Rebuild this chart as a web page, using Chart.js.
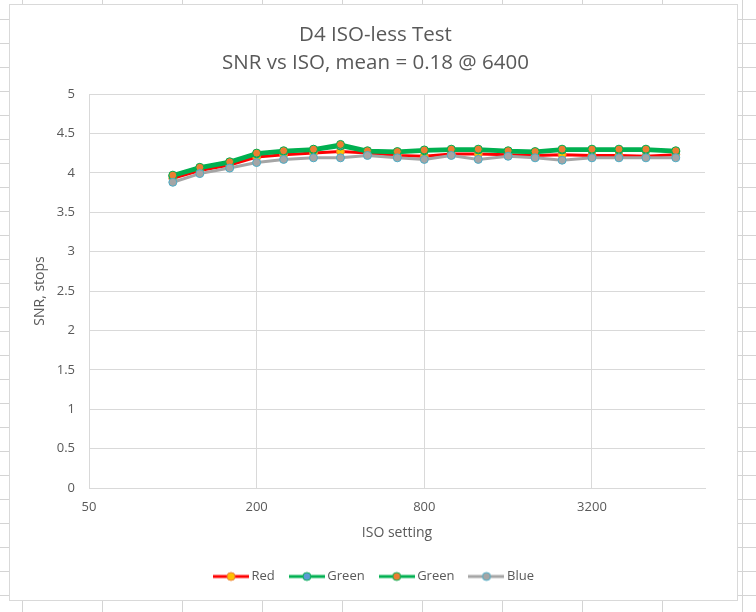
<!DOCTYPE html>
<html>
<head>
<meta charset="utf-8">
<script src="https://cdn.jsdelivr.net/npm/chart.js@4"></script>
<style>
  html, body { margin: 0; padding: 0; }
  body {
    width: 756px; height: 612px; position: relative; overflow: hidden;
    background-color: #fff;
    background-image:
      linear-gradient(to right, #d4d4d4 1px, transparent 1px),
      linear-gradient(to bottom, #d4d4d4 1px, transparent 1px);
    background-size: 80px 24px;
    background-position: 22px 19px;
  }
  #box {
    position: absolute; left: 9px; top: 4px; width: 727px; height: 595px;
    background: #fff; border: 1px solid #d9d9d9;
  }
  #chart { position: absolute; left: 0; top: 0; }
</style>
</head>
<body>
<div id="box"></div>
<canvas id="chart" width="756" height="612"></canvas>
<script>
// ISO settings (1/3 stop steps)
const isoValues = [100, 125, 160, 200, 250, 320, 400, 500, 640, 800, 1000, 1250, 1600, 2000, 2500, 3200, 4000, 5000, 6400];
const isoTicks = [50, 200, 800, 3200];

// SNR in stops per channel
const redSnr    = [3.93, 4.03, 4.10, 4.20, 4.23, 4.25, 4.27, 4.25, 4.22, 4.21, 4.24, 4.24, 4.23, 4.22, 4.23, 4.22, 4.22, 4.21, 4.23];
const green1Snr = [3.96, 4.06, 4.13, 4.24, 4.27, 4.29, 4.34, 4.27, 4.26, 4.28, 4.29, 4.29, 4.27, 4.26, 4.29, 4.29, 4.29, 4.29, 4.27];
const green2Snr = [3.97, 4.07, 4.14, 4.25, 4.28, 4.30, 4.36, 4.28, 4.27, 4.29, 4.30, 4.30, 4.28, 4.27, 4.30, 4.30, 4.30, 4.30, 4.28];
const blueSnr   = [3.88, 3.99, 4.06, 4.13, 4.17, 4.19, 4.19, 4.22, 4.19, 4.17, 4.22, 4.17, 4.21, 4.19, 4.16, 4.19, 4.19, 4.19, 4.19];

const FONT = "'Open Sans', sans-serif";
const TXT = '#595959';
const GRID = '#d9d9d9';

function pts(vals) {
    return isoValues.map((x, i) => ({ x: x, y: vals[i] }));
}

function series(label, vals, line, fill, edge, width, order) {
    return {
        label: label,
        data: pts(vals),
        borderColor: line,
        borderWidth: width,
        backgroundColor: fill,
        pointBackgroundColor: fill,
        pointBorderColor: edge,
        pointBorderWidth: 1,
        pointRadius: 4,
        tension: 0,
        order: order
    };
}

// legend icon: line with a marker in the middle
function legendIcon(ds) {
    const c = document.createElement('canvas');
    c.width = 36; c.height = 12;
    const g = c.getContext('2d');
    g.strokeStyle = ds.borderColor;
    g.lineWidth = 3;
    g.beginPath(); g.moveTo(0, 6); g.lineTo(36, 6); g.stroke();
    g.beginPath(); g.arc(18, 6, 4, 0, Math.PI * 2);
    g.fillStyle = ds.pointBackgroundColor; g.fill();
    g.lineWidth = 1; g.strokeStyle = ds.pointBorderColor; g.stroke();
    return c;
}

new Chart(document.getElementById('chart'), {
    type: 'line',
    data: {
        datasets: [
            series('Red', redSnr, '#ff0000', '#ffc000', '#ed7d31', 3, 4),
            series('Green', green1Snr, '#00b050', '#5b9bd5', '#00b050', 4, 3),
            series('Green', green2Snr, '#00b050', '#ed7d31', '#00b050', 4, 2),
            series('Blue', blueSnr, '#a5a5a5', '#a5a5a5', '#4bacc6', 3, 1)
        ]
    },
    options: {
        responsive: false,
        animation: false,
        layout: { padding: { left: 14, right: 19, top: 4, bottom: 19 } },
        plugins: {
            title: {
                display: true,
                text: ['D4 ISO-less Test', 'SNR vs ISO, mean = 0.18 @ 6400'],
                color: TXT,
                font: { family: FONT, size: 20.5, weight: 'normal', lineHeight: '28px' },
                padding: { top: 17, bottom: 17 }
            },
            legend: {
                position: 'bottom',
                labels: {
                    usePointStyle: true,
                    pointStyleWidth: 28,
                    padding: 18,
                    color: TXT,
                    font: { family: FONT, size: 13 },
                    generateLabels: function(chart) {
                        return chart.data.datasets.map((ds, i) => ({
                            text: ds.label,
                            pointStyle: legendIcon(ds),
                            fillStyle: ds.pointBackgroundColor,
                            strokeStyle: ds.borderColor,
                            lineWidth: 0,
                            fontColor: TXT,
                            hidden: false,
                            datasetIndex: i
                        }));
                    }
                }
            },
            tooltip: { enabled: false }
        },
        scales: {
            x: {
                type: 'logarithmic',
                min: 50,
                max: 8150,
                afterBuildTicks: function(scale) {
                    scale.ticks = isoTicks.map(v => ({ value: v }));
                },
                afterFit: function(scale) { scale.height = 64; },
                ticks: {
                    color: TXT,
                    font: { family: FONT, size: 13 },
                    padding: 11,
                    maxRotation: 0,
                    autoSkip: false,
                    callback: function(v) { return String(v); }
                },
                grid: { color: GRID, drawTicks: false },
                border: { color: GRID },
                title: {
                    display: true,
                    text: 'ISO setting',
                    color: TXT,
                    font: { family: FONT, size: 14 },
                    padding: { top: 0, bottom: 11 }
                }
            },
            y: {
                min: 0,
                max: 5,
                afterFit: function(scale) { scale.width = 75; },
                ticks: {
                    stepSize: 0.5,
                    color: TXT,
                    font: { family: FONT, size: 13 },
                    padding: 14,
                    callback: function(v) { return String(v); }
                },
                grid: { color: GRID, drawTicks: false },
                border: { display: false },
                title: {
                    display: true,
                    text: 'SNR, stops',
                    color: TXT,
                    font: { family: FONT, size: 14 },
                    padding: { top: 18, bottom: 0 }
                }
            },
            yPad: {
                position: 'right',
                afterFit: function(scale) { scale.width = 32; },
                ticks: { display: false },
                grid: { display: false },
                border: { display: false }
            }
        }
    }
});
</script>
</body>
</html>
